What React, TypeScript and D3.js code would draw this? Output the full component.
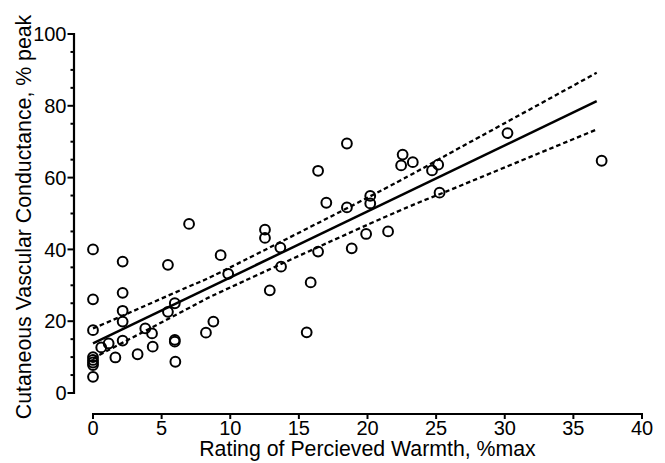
import React from "react";
import * as d3 from "d3";

const warmth = [
  0, 0, 0, 0, 0, 0, 0, 0, 0.6, 1.14, 1.63, 2.16, 2.16, 2.16, 2.16, 2.16, 3.25, 3.81, 4.3, 4.35,
  5.46, 5.46, 5.96, 5.96, 5.96, 6.0, 7.0, 8.23, 8.77, 9.3, 9.85, 12.53, 12.53, 12.88, 13.65, 13.7,
  15.57, 15.86, 16.4, 16.4, 17.0, 18.5, 18.5, 18.85, 19.9, 20.2, 20.2, 21.5, 22.56, 22.45, 23.3,
  24.7, 25.15, 25.25, 30.2, 37.06,
];
const conductance = [
  40.0, 26.1, 17.5, 10.0, 9.2, 8.5, 7.8, 4.5, 12.7, 13.8, 9.9, 36.6, 27.9, 22.9, 19.9, 14.6, 10.8, 18.0, 16.6, 12.9,
  35.7, 22.6, 25.0, 14.8, 14.3, 8.7, 47.1, 16.8, 19.9, 38.4, 33.2, 45.5, 43.2, 28.6, 40.5, 35.2,
  16.9, 30.8, 61.9, 39.4, 53.0, 69.5, 51.7, 40.3, 44.3, 54.9, 52.8, 45.0, 66.4, 63.4, 64.3,
  62.0, 63.6, 55.8, 72.4, 64.7,
];

const fitX = [0, 36.7];
const fitY = [13.8, 81.3];
const bandX = [0, 2.2, 7.2, 10, 20.2, 25.2, 28.2, 36.7];
const bandUpper = [18.0, 21.6, 30.0, 35.0, 54.8, 65.1, 71.4, 89.2];
const bandLower = [9.6, 14.1, 24.1, 29.4, 47.2, 55.3, 60.0, 73.4];

const xTicks = [0, 5, 10, 15, 20, 25, 30, 35, 40];
const yTicks = [0, 20, 40, 60, 80, 100];
const yMinorTicks = d3.range(0, 101, 5);

const xTitle = "Rating of Percieved Warmth, %max";
const yTitle = "Cutaneous Vascular Conductance, % peak";

const W = 665;
const H = 463;
const FONT = "'Liberation Sans', Arial, Helvetica, sans-serif";

export default function App() {
  const x = d3.scaleLinear().domain([0, 40]).range([93, 642]);
  const y = d3.scaleLinear().domain([0, 100]).range([393, 34]);
  const yAxisX = 74;
  const xAxisY = 414;

  const line = d3
    .line<[number, number]>()
    .x((d) => x(d[0]))
    .y((d) => y(d[1]));
  const curve = d3
    .line<[number, number]>()
    .x((d) => x(d[0]))
    .y((d) => y(d[1]))
    .curve(d3.curveNatural);

  const fitPts = fitX.map((v, i) => [v, fitY[i]] as [number, number]);
  const upPts = bandX.map((v, i) => [v, bandUpper[i]] as [number, number]);
  const loPts = bandX.map((v, i) => [v, bandLower[i]] as [number, number]);

  return (
    <svg
      width={W}
      height={H}
      style={{ position: "absolute", left: 0, top: 0, background: "#fff" }}
      fontFamily={FONT}
    >
      <rect width={W} height={H} fill="#fff" />
      {/* Y axis */}
      <line x1={yAxisX} x2={yAxisX} y1={y(100) - 1} y2={y(0) + 1} stroke="#000" strokeWidth={2.2} />
      {yMinorTicks.map((t) => (
        <line
          key={"ym" + t}
          x1={yAxisX - (t % 20 === 0 ? 6.5 : 3.5)}
          x2={yAxisX}
          y1={y(t)}
          y2={y(t)}
          stroke="#000"
          strokeWidth={2}
        />
      ))}
      {yTicks.map((t) => (
        <text
          key={"yl" + t}
          x={yAxisX - 7.5}
          y={y(t)}
          dy="0.36em"
          textAnchor="end"
          fontSize={20}
          fill="#000"
        >
          {t}
        </text>
      ))}
      {/* X axis */}
      <line x1={x(0) - 1} x2={x(40) + 1} y1={xAxisY} y2={xAxisY} stroke="#000" strokeWidth={2.2} />
      {xTicks.map((t) => (
        <g key={"xt" + t}>
          <line x1={x(t)} x2={x(t)} y1={xAxisY} y2={xAxisY + 5} stroke="#000" strokeWidth={2} />
          <text x={x(t)} y={435} textAnchor="middle" fontSize={20} fill="#000">
            {t}
          </text>
        </g>
      ))}
      <text x={(x(0) + x(40)) / 2} y={456} textAnchor="middle" fontSize={21.3} fill="#000">
        {xTitle}
      </text>
      <text
        transform={`translate(31, ${217}) rotate(-90)`}
        textAnchor="middle"
        fontSize={21.3}
        fill="#000"
      >
        {yTitle}
      </text>
      {/* Fit and confidence bands */}
      <path d={line(fitPts) || ""} fill="none" stroke="#000" strokeWidth={2.5} />
      <path d={curve(upPts) || ""} fill="none" stroke="#000" strokeWidth={2.3} strokeDasharray="4.5 3" />
      <path d={curve(loPts) || ""} fill="none" stroke="#000" strokeWidth={2.3} strokeDasharray="4.5 3" />
      {/* Points */}
      {warmth.map((w, i) => (
        <circle
          key={"p" + i}
          cx={x(w)}
          cy={y(conductance[i])}
          r={4.9}
          fill="none"
          stroke="#000"
          strokeWidth={2}
        />
      ))}
    </svg>
  );
}
